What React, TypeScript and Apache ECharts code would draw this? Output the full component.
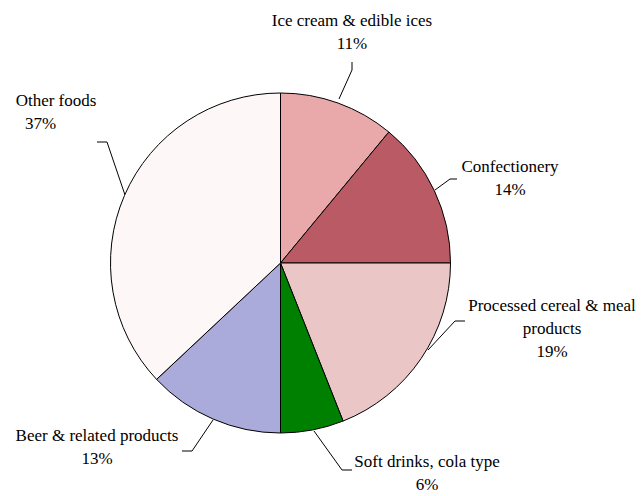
import React, { useEffect, useRef } from "react";
import * as echarts from "echarts";

const categories = [
  "Ice cream & edible ices",
  "Confectionery",
  "Processed cereal & meal products",
  "Soft drinks, cola type",
  "Beer & related products",
  "Other foods",
];
const shares = [11, 14, 19, 6, 13, 37];
const sliceColors = ["#e9a9ab", "#b95a64", "#ebc6c6", "#008000", "#aaaadb", "#fdf7f7"];

const FONT = "Times New Roman, Liberation Serif, serif";

// label layout (positions only)
const labelCenters: [number, number][] = [
  [352, 32],
  [510, 178],
  [552, 328],
  [427, 473],
  [97, 447],
  [56, 112],
];
const leaderLines: [number, number][][] = [
  [[339, 99], [352, 70], [352, 62]],
  [[435, 190], [450, 179], [457, 179]],
  [[428, 350], [455, 321], [465, 321]],
  [[314, 431], [342, 470], [352, 470]],
  [[213, 420], [192, 451], [182, 451]],
  [[125, 195], [107, 142], [97, 142]],
];

export default function App() {
  const ref = useRef<HTMLDivElement>(null);
  useEffect(() => {
    if (!ref.current) return;
    const chart = echarts.init(ref.current, null, { renderer: "svg" });
    chart.setOption({
      animation: false,
      backgroundColor: "#ffffff",
      textStyle: { fontFamily: FONT },
      series: [
        {
          type: "pie",
          center: [280.5, 263],
          radius: 170,
          startAngle: 90,
          clockwise: true,
          avoidLabelOverlap: false,
          itemStyle: { borderColor: "#000000", borderWidth: 1 },
          label: {
            show: true,
            position: "outside",
            color: "#000000",
            fontFamily: FONT,
            fontSize: 17,
            lineHeight: 23,
            align: "center",
            formatter: (p: any) => {
              const name =
                p.name === "Processed cereal & meal products"
                  ? "Processed cereal & meal\nproducts"
                  : p.name;
              if (p.name === "Other foods") {
                return `{n|${name}}\n{s|${p.value}%}`;
              }
              return `${name}\n${p.value}%`;
            },
            rich: {
              n: {
                fontFamily: FONT,
                fontSize: 17,
                lineHeight: 23,
                color: "#000",
              },
              s: {
                fontFamily: FONT,
                fontSize: 17,
                lineHeight: 23,
                color: "#000",
                padding: [0, 31, 0, 0],
              },
            },
          },
          labelLine: {
            show: true,
            lineStyle: { color: "#000000", width: 1 },
          },
          labelLayout: (params: any) => {
            const i = params.dataIndex;
            return {
              x: labelCenters[i][0],
              y: labelCenters[i][1],
              align: "center",
              verticalAlign: "middle",
              labelLinePoints: leaderLines[i],
            };
          },
          data: categories.map((c, i) => ({
            name: c,
            value: shares[i],
            itemStyle: { color: sliceColors[i] },
          })),
        },
      ],
    });
    return () => chart.dispose();
  }, []);
  return (
    <div
      ref={ref}
      style={{ position: "fixed", left: 0, top: 0, width: 643, height: 496 }}
    />
  );
}
